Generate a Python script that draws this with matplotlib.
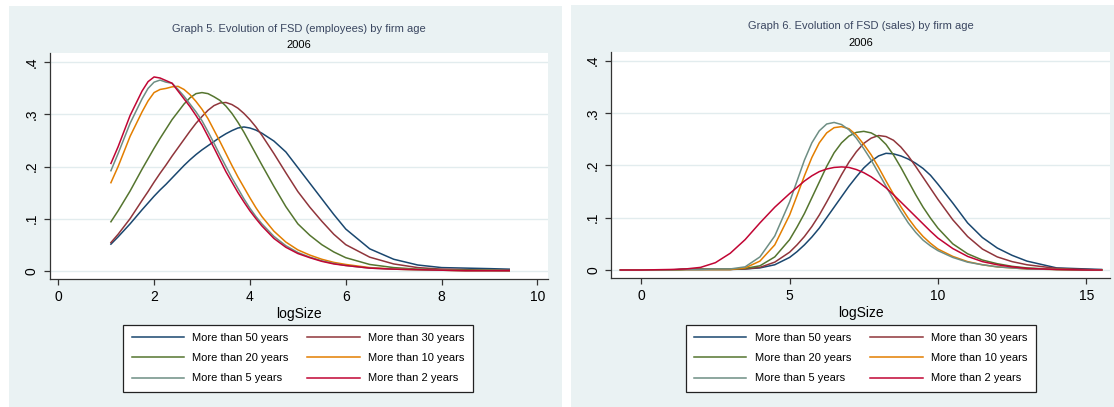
import matplotlib.pyplot as plt
from matplotlib.patches import Rectangle
import numpy as np

plt.rcParams['font.family'] = ['Liberation Sans', 'DejaVu Sans']

# series names and Stata s2color colours
labels = ['More than 50 years', 'More than 30 years', 'More than 20 years',
          'More than 10 years', 'More than 5 years', 'More than 2 years']
colors = ['#1A476F', '#90353B', '#55752F', '#E37E00', '#6E8E84', '#C10534']

# Graph 5: employees
emp_x = [1.1, 1.25, 1.5, 1.75, 1.875, 2.0, 2.125, 2.25, 2.375, 2.5, 2.625, 2.75, 2.875, 3.0,
         3.125, 3.25, 3.375, 3.5, 3.625, 3.75, 3.875, 4.0, 4.125, 4.25,
         4.5, 4.75, 5.0, 5.25, 5.5, 5.75, 6.0, 6.5, 7.0, 7.5, 8.0, 8.5, 9.0, 9.41]
emp_50 = [0.051, 0.065, 0.090, 0.117, 0.130, 0.143, 0.155, 0.166, 0.178, 0.190, 0.202, 0.213,
          0.223, 0.232, 0.240, 0.248, 0.256, 0.263, 0.269, 0.274, 0.276, 0.274, 0.270, 0.264,
          0.249, 0.228, 0.198, 0.168, 0.138, 0.108, 0.080, 0.042, 0.022, 0.011,
          0.006, 0.005, 0.004, 0.003]
emp_30 = [0.054, 0.070, 0.100, 0.135, 0.152, 0.170, 0.187, 0.203, 0.220, 0.236, 0.252, 0.268,
          0.283, 0.296, 0.308, 0.317, 0.322, 0.323, 0.319, 0.312, 0.302, 0.290, 0.276, 0.260,
          0.225, 0.188, 0.152, 0.122, 0.095, 0.070, 0.050, 0.026, 0.013, 0.006,
          0.003, 0.002, 0.001, 0.001]
emp_20 = [0.094, 0.115, 0.153, 0.195, 0.215, 0.235, 0.254, 0.272, 0.290, 0.305, 0.320, 0.332,
          0.340, 0.342, 0.340, 0.334, 0.327, 0.316, 0.302, 0.285, 0.266, 0.245, 0.224, 0.203,
          0.162, 0.123, 0.090, 0.068, 0.050, 0.036, 0.025, 0.012, 0.006, 0.003,
          0.002, 0.001, 0.001, 0.0]
emp_10 = [0.169, 0.200, 0.258, 0.305, 0.326, 0.342, 0.348, 0.350, 0.353, 0.354, 0.348, 0.338,
          0.325, 0.310, 0.292, 0.270, 0.248, 0.225, 0.202, 0.180, 0.160, 0.140, 0.121, 0.104,
          0.076, 0.055, 0.040, 0.030, 0.022, 0.016, 0.012, 0.006, 0.003, 0.002,
          0.001, 0.0, 0.0, 0.0]
emp_5 = [0.192, 0.225, 0.283, 0.330, 0.350, 0.362, 0.366, 0.362, 0.360, 0.348, 0.335, 0.320,
         0.305, 0.288, 0.267, 0.245, 0.222, 0.200, 0.178, 0.158, 0.138, 0.120, 0.104, 0.090,
         0.066, 0.048, 0.035, 0.026, 0.019, 0.014, 0.010, 0.005, 0.003, 0.002,
         0.001, 0.0, 0.0, 0.0]
emp_2 = [0.206, 0.238, 0.298, 0.345, 0.363, 0.372, 0.370, 0.365, 0.360, 0.345, 0.330, 0.315,
         0.298, 0.280, 0.258, 0.236, 0.213, 0.190, 0.170, 0.150, 0.132, 0.115, 0.100, 0.086,
         0.062, 0.045, 0.033, 0.025, 0.018, 0.013, 0.010, 0.005, 0.003, 0.002,
         0.001, 0.0, 0.0, 0.0]

# Graph 6: sales
sal_x = [-0.7, 0, 1, 1.5, 2, 2.5, 3, 3.5, 4, 4.5, 5, 5.25, 5.5, 5.75, 6, 6.25, 6.5, 6.75, 7,
         7.25, 7.5, 7.75, 8, 8.25, 8.5, 8.75, 9, 9.25, 9.5, 9.75, 10, 10.5, 11, 11.5, 12, 12.5,
         13, 14, 15, 15.52]
sal_50 = [0, 0, 0, 0.002, 0.002, 0.002, 0.002, 0.002, 0.004, 0.010, 0.024, 0.035, 0.048, 0.063,
          0.080, 0.100, 0.120, 0.140, 0.160, 0.178, 0.195, 0.208, 0.218, 0.223, 0.222, 0.218,
          0.212, 0.204, 0.194, 0.181, 0.164, 0.128, 0.090, 0.062, 0.042, 0.028, 0.017, 0.004,
          0.002, 0.001]
sal_30 = [0, 0, 0, 0.001, 0.001, 0.001, 0.001, 0.002, 0.005, 0.015, 0.034, 0.048, 0.064, 0.083,
          0.105, 0.130, 0.156, 0.182, 0.206, 0.226, 0.242, 0.252, 0.257, 0.255, 0.248, 0.235,
          0.218, 0.198, 0.177, 0.156, 0.135, 0.096, 0.064, 0.040, 0.025, 0.016, 0.010, 0.003,
          0.001, 0.0]
sal_20 = [0, 0, 0, 0.001, 0.001, 0.001, 0.001, 0.003, 0.008, 0.025, 0.058, 0.082, 0.108, 0.138,
          0.168, 0.198, 0.224, 0.243, 0.256, 0.263, 0.265, 0.262, 0.254, 0.240, 0.220, 0.196,
          0.170, 0.144, 0.120, 0.099, 0.080, 0.050, 0.031, 0.019, 0.012, 0.007, 0.004, 0.001,
          0.0, 0.0]
sal_10 = [0, 0, 0, 0.001, 0.001, 0.001, 0.001, 0.004, 0.017, 0.048, 0.105, 0.142, 0.180, 0.215,
          0.243, 0.262, 0.272, 0.274, 0.270, 0.258, 0.240, 0.220, 0.196, 0.170, 0.145, 0.121,
          0.099, 0.080, 0.064, 0.051, 0.040, 0.026, 0.016, 0.010, 0.006, 0.004, 0.002, 0.001,
          0.0, 0.0]
sal_5 = [0, 0, 0, 0.001, 0.001, 0.002, 0.002, 0.006, 0.025, 0.065, 0.130, 0.170, 0.210, 0.243,
         0.266, 0.279, 0.282, 0.278, 0.268, 0.252, 0.232, 0.210, 0.185, 0.160, 0.135, 0.112,
         0.090, 0.072, 0.057, 0.046, 0.037, 0.024, 0.015, 0.010, 0.006, 0.004, 0.002, 0.001,
         0.0, 0.0]
sal_2 = [0, 0, 0.001, 0.002, 0.005, 0.014, 0.032, 0.058, 0.090, 0.120, 0.146, 0.158, 0.170, 0.180,
         0.188, 0.193, 0.196, 0.197, 0.196, 0.192, 0.186, 0.178, 0.168, 0.157, 0.144, 0.130,
         0.116, 0.102, 0.088, 0.074, 0.061, 0.041, 0.026, 0.016, 0.010, 0.006, 0.003, 0.001,
         0.0, 0.0]

W, H = 1114, 407
fig = plt.figure(figsize=(W / 100, H / 100), dpi=100, facecolor='white')

bg = '#EAF2F3'
# panel backgrounds (pixel boxes: x0, y_top, x1, y_bottom)
for x0, yt, x1, yb in [(9, 6, 562, 407), (571, 5, 1114, 407)]:
    fig.patches.append(Rectangle((x0 / W, 1 - yb / H), (x1 - x0) / W, (yb - yt) / H,
                                 transform=fig.transFigure, facecolor=bg, edgecolor='none',
                                 zorder=-10))


def make_axes(px_left, px_right, px_top, px_bottom):
    ax = fig.add_axes([px_left / W, 1 - px_bottom / H,
                       (px_right - px_left) / W, (px_bottom - px_top) / H])
    ax.set_zorder(1)
    return ax


def style(ax, xticks, xlim, ylim):
    ax.set_facecolor('white')
    ax.set_xlim(xlim)
    ax.set_ylim(ylim)
    for s in ['top', 'right']:
        ax.spines[s].set_visible(False)
    for s in ['left', 'bottom']:
        ax.spines[s].set_color('#333333')
        ax.spines[s].set_linewidth(0.9)
    ax.set_xticks(xticks)
    ax.set_yticks([0, 0.1, 0.2, 0.3, 0.4])
    ax.set_yticklabels(['0', '.1', '.2', '.3', '.4'], rotation=90, va='center')
    ax.tick_params(axis='both', direction='out', length=4.5, width=0.9, color='#333333',
                   labelsize=10, pad=3.5)
    ax.grid(axis='y', color='#E2ECEE', linewidth=1.0)
    ax.set_axisbelow(True)
    ax.set_xlabel('logSize', fontsize=10, labelpad=2)


def add_legend(ax, handles, px_left, px_right, px_top):
    order = [0, 2, 4, 1, 3, 5]
    leg = ax.legend([handles[i] for i in order], [labels[i] for i in order], ncol=2,
                    loc='upper left', mode='expand',
                    bbox_to_anchor=(px_left / W, 1 - px_top / H - 0.2, (px_right - px_left) / W, 0.2),
                    bbox_transform=fig.transFigure, fontsize=8, frameon=True, fancybox=False,
                    handlelength=4.7, handletextpad=0.75, labelspacing=0.92, borderpad=0.75,
                    borderaxespad=0, columnspacing=1.5)
    leg.get_frame().set_edgecolor('#222222')
    leg.get_frame().set_linewidth(0.9)
    leg.get_frame().set_alpha(1)


# left panel
ax1 = make_axes(50, 547.7, 53, 279)
series1 = [emp_50, emp_30, emp_20, emp_10, emp_5, emp_2]
h1 = [ax1.plot(emp_x, s, color=c, lw=1.1)[0] for s, c in zip(series1, colors)]
style(ax1, [0, 2, 4, 6, 8, 10], (-0.171, 10.213), (-0.0159, 0.418))
ax1.text(0.5, 1.105, 'Graph 5. Evolution of FSD (employees) by firm age', transform=ax1.transAxes,
         ha='center', va='center', fontsize=8, color='#3A4660')
ax1.text(0.5, 1.035, '2006', transform=ax1.transAxes, ha='center', va='center', fontsize=8,
         color='black')
add_legend(ax1, h1, 123.3, 472.7, 324.7)

# right panel
ax2 = make_axes(611.3, 1110, 51.7, 278)
series2 = [sal_50, sal_30, sal_20, sal_10, sal_5, sal_2]
h2 = [ax2.plot(sal_x, s, color=c, lw=1.1)[0] for s, c in zip(series2, colors)]
style(ax2, [0, 5, 10, 15], (-1.01, 15.80), (-0.0153, 0.4172))
ax2.text(0.5, 1.112, 'Graph 6. Evolution of FSD (sales) by firm age', transform=ax2.transAxes,
         ha='center', va='center', fontsize=8, color='#3A4660')
ax2.text(0.5, 1.04, '2006', transform=ax2.transAxes, ha='center', va='center', fontsize=8,
         color='black')
add_legend(ax2, h2, 685.7, 1035.7, 324.7)

fig.savefig('out.png', dpi=100, facecolor='white')
